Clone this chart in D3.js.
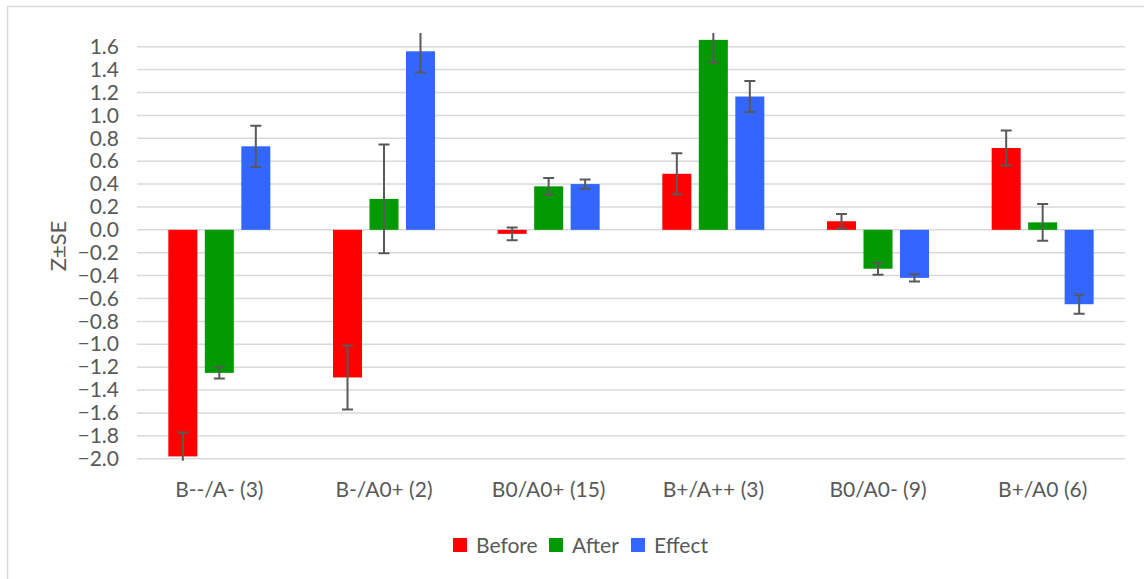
<!DOCTYPE html>
<html>
<head>
<meta charset="utf-8">
<script src="https://cdn.jsdelivr.net/npm/d3@7"></script>
<style>
  html, body { margin: 0; padding: 0; background: #fff; }
  svg { display: block; font-family: Lato, "Open Sans", sans-serif; }
</style>
</head>
<body>
<svg id="chart" width="1144" height="579"></svg>
<script>
// Groups (n = number of cases)
const categories = ["B--/A- (3)", "B-/A0+ (2)", "B0/A0+ (15)", "B+/A++ (3)", "B0/A0- (9)", "B+/A0 (6)"];
const seriesNames = ["Before", "After", "Effect"];
const seriesColors = ["#ff0000", "#009900", "#3366ff"];

// Mean Z scores and their standard errors
const before   = [-1.98, -1.29, -0.035, 0.49, 0.075, 0.715];
const beforeSE = [0.21, 0.28, 0.055, 0.18, 0.063, 0.153];
const after    = [-1.25, 0.27, 0.38, 1.66, -0.34, 0.065];
const afterSE  = [0.05, 0.475, 0.073, 0.20, 0.053, 0.16];
const effect   = [0.73, 1.56, 0.40, 1.165, -0.42, -0.65];
const effectSE = [0.18, 0.186, 0.04, 0.135, 0.032, 0.083];

const yTicks = [-2.0, -1.8, -1.6, -1.4, -1.2, -1.0, -0.8, -0.6, -0.4, -0.2, 0.0,
                0.2, 0.4, 0.6, 0.8, 1.0, 1.2, 1.4, 1.6];

const values = [before, after, effect];
const errors = [beforeSE, afterSE, effectSE];

const svg = d3.select("#chart");
const textColor = "#595959";
const fontSize = "21px";

// Outer chart border
svg.append("rect")
  .attr("x", 7.5).attr("y", 6.5)
  .attr("width", 1150).attr("height", 600)
  .attr("fill", "none").attr("stroke", "#d9d9d9").attr("stroke-width", 1.5);

const plot = { left: 137, right: 1125, top: 33, bottom: 458.7 };

const y = d3.scaleLinear().domain([-2.0, 1.72]).range([plot.bottom, plot.top]);
const x0 = d3.scaleBand().domain(categories).range([plot.left, plot.right]).padding(0);
const x1 = d3.scaleBand().domain(seriesNames).range([0, 102]).paddingInner(0.205).paddingOuter(0);

// Gridlines
svg.append("g")
  .selectAll("line")
  .data(yTicks)
  .join("line")
  .attr("x1", plot.left).attr("x2", plot.right)
  .attr("y1", d => y(d)).attr("y2", d => y(d))
  .attr("stroke", "#d9d9d9").attr("stroke-width", 1.5);

// Y axis labels
const yAxis = d3.axisLeft(y).tickValues(yTicks).tickSize(0).tickPadding(18)
  .tickFormat(d3.format(".1f"));
svg.append("g")
  .attr("transform", `translate(${plot.left},0)`)
  .call(yAxis)
  .call(g => g.select(".domain").remove())
  .call(g => g.selectAll("text")
    .attr("fill", textColor)
    .style("font-size", fontSize)
    .style("font-family", "Lato, sans-serif"));

// Y axis title
svg.append("text")
  .attr("transform", "translate(66,246) rotate(-90)")
  .attr("text-anchor", "middle")
  .attr("fill", textColor)
  .style("font-size", "22px")
  .text("Z±SE");

// X axis labels
const xAxis = d3.axisBottom(x0).tickSize(0).tickPadding(0);
svg.append("g")
  .attr("transform", `translate(0,${plot.bottom})`)
  .call(xAxis)
  .call(g => g.select(".domain").remove())
  .call(g => g.selectAll("text")
    .attr("y", 38).attr("dy", 0)
    .attr("fill", textColor)
    .style("font-size", fontSize)
    .style("font-family", "Lato, sans-serif"));

// Clip marks to the plot area
svg.append("defs").append("clipPath").attr("id", "plotClip")
  .append("rect")
  .attr("x", plot.left).attr("y", plot.top)
  .attr("width", plot.right - plot.left).attr("height", plot.bottom - plot.top + 2);

const marks = svg.append("g").attr("clip-path", "url(#plotClip)");

const rows = [];
categories.forEach((c, i) => {
  seriesNames.forEach((s, j) => {
    rows.push({ cat: c, series: s, color: seriesColors[j], v: values[j][i], se: errors[j][i] });
  });
});

const groupOffset = (x0.bandwidth() - 102) / 2;
const bx = d => x0(d.cat) + groupOffset + x1(d.series);

// Bars
marks.append("g")
  .selectAll("rect")
  .data(rows)
  .join("rect")
  .attr("x", bx)
  .attr("width", x1.bandwidth())
  .attr("y", d => y(Math.max(0, d.v)))
  .attr("height", d => Math.abs(y(d.v) - y(0)))
  .attr("fill", d => d.color);

// Error bars
const eb = marks.append("g")
  .attr("stroke", "#595959").attr("stroke-width", 2);
const cx = d => bx(d) + x1.bandwidth() / 2;
eb.selectAll("line.stem")
  .data(rows).join("line").attr("class", "stem")
  .attr("x1", cx).attr("x2", cx)
  .attr("y1", d => y(d.v + d.se)).attr("y2", d => y(d.v - d.se));
eb.selectAll("line.capTop")
  .data(rows).join("line").attr("class", "capTop")
  .attr("x1", d => cx(d) - 5.5).attr("x2", d => cx(d) + 5.5)
  .attr("y1", d => y(d.v + d.se)).attr("y2", d => y(d.v + d.se));
eb.selectAll("line.capBottom")
  .data(rows).join("line").attr("class", "capBottom")
  .attr("x1", d => cx(d) - 5.5).attr("x2", d => cx(d) + 5.5)
  .attr("y1", d => y(d.v - d.se)).attr("y2", d => y(d.v - d.se));

// Legend
const legend = svg.append("g");
const legendX = [453, 549, 631];
seriesNames.forEach((s, j) => {
  const g = legend.append("g").attr("transform", `translate(${legendX[j]},538)`);
  g.append("rect").attr("width", 14).attr("height", 14).attr("fill", seriesColors[j]);
  g.append("text")
    .attr("x", 23).attr("y", 15)
    .attr("fill", textColor)
    .style("font-size", fontSize)
    .text(s);
});
</script>
</body>
</html>
